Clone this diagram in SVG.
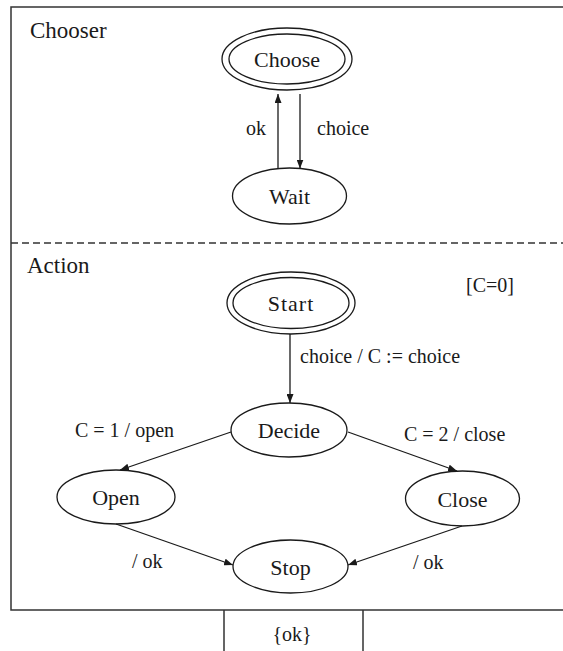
<svg xmlns="http://www.w3.org/2000/svg" width="563" height="651" viewBox="0 0 563 651">
<style>
.node ellipse{fill:none;stroke:#1a1a1a;stroke-width:1.3}
.nl{font-family:"Liberation Serif","Times New Roman",serif;font-size:22px;fill:#1a1a1a;text-anchor:middle}
.el{font-family:"Liberation Serif","Times New Roman",serif;font-size:20px;fill:#1a1a1a}
.sec{font-family:"Liberation Serif","Times New Roman",serif;font-size:23px;fill:#1a1a1a}
.edge{fill:none;stroke:#1a1a1a;stroke-width:1.3;marker-end:url(#ah)}
.frame{fill:none;stroke:#333;stroke-width:1.5}
</style>
<defs>
<marker id="ah" markerUnits="userSpaceOnUse" markerWidth="9" markerHeight="7" viewBox="0 0 9 7" refX="9" refY="3.5" orient="auto">
<path d="M0,0 L9,3.5 L0,7 z" fill="#1a1a1a"/>
</marker>
</defs>
<rect width="563" height="651" fill="#fff"/>
<g id="frame">
<path class="frame" d="M566,7 H11 V610 H566"/>
<line x1="11" y1="243" x2="563" y2="243" stroke="#333" stroke-width="1.4" stroke-dasharray="7 4"/>
<path class="frame" d="M224,610 V651 M363,610 V651"/>
<text class="sec" x="30" y="38">Chooser</text>
<text class="sec" x="27" y="273">Action</text>
<text class="el" x="466" y="292">[C=0]</text>
<text class="el" x="292" y="641" text-anchor="middle" font-size="18">{ok}</text>
</g>
<g id="Choose" class="node">
<ellipse cx="287" cy="59" rx="65" ry="31"/>
<ellipse cx="287" cy="59" rx="58" ry="25"/>
<text class="nl" x="287" y="67">Choose</text>
</g>
<g id="Wait" class="node">
<ellipse cx="289.5" cy="196" rx="57" ry="28"/>
<text class="nl" x="289.5" y="204">Wait</text>
</g>
<g id="Start" class="node">
<ellipse cx="291" cy="303" rx="64" ry="31"/>
<ellipse cx="291" cy="303" rx="58" ry="25.5"/>
<text class="nl" x="291" y="311" letter-spacing="1">Start</text>
</g>
<g id="Decide" class="node">
<ellipse cx="289" cy="430" rx="58" ry="27"/>
<text class="nl" x="289" y="438">Decide</text>
</g>
<g id="Open" class="node">
<ellipse cx="116" cy="497" rx="59" ry="27"/>
<text class="nl" x="116" y="505">Open</text>
</g>
<g id="Close" class="node">
<ellipse cx="462.5" cy="498.5" rx="57" ry="27.5"/>
<text class="nl" x="462.5" y="506.5">Close</text>
</g>
<g id="Stop" class="node">
<ellipse cx="290.5" cy="566.5" rx="57.5" ry="26.5"/>
<text class="nl" x="290.5" y="574.5">Stop</text>
</g>
<g id="connectors">
<line class="edge" x1="278" y1="168.5" x2="278" y2="94"/>
<line class="edge" x1="300" y1="94" x2="300" y2="168.5"/>
<line class="edge" x1="290" y1="334" x2="290" y2="403"/>
<line class="edge" x1="231" y1="432" x2="120" y2="470"/>
<line class="edge" x1="348" y1="432" x2="457" y2="471"/>
<line class="edge" x1="116" y1="524" x2="233" y2="565"/>
<line class="edge" x1="462" y1="526" x2="348" y2="565"/>
<text class="el" x="256" y="135" text-anchor="middle">ok</text>
<text class="el" x="317" y="135">choice</text>
<text class="el" x="300" y="363">choice / C := choice</text>
<text class="el" x="75" y="437">C = 1 / open</text>
<text class="el" x="404" y="441">C = 2 / close</text>
<text class="el" x="132" y="568">/ ok</text>
<text class="el" x="413" y="569">/ ok</text>
</g>
</svg>
